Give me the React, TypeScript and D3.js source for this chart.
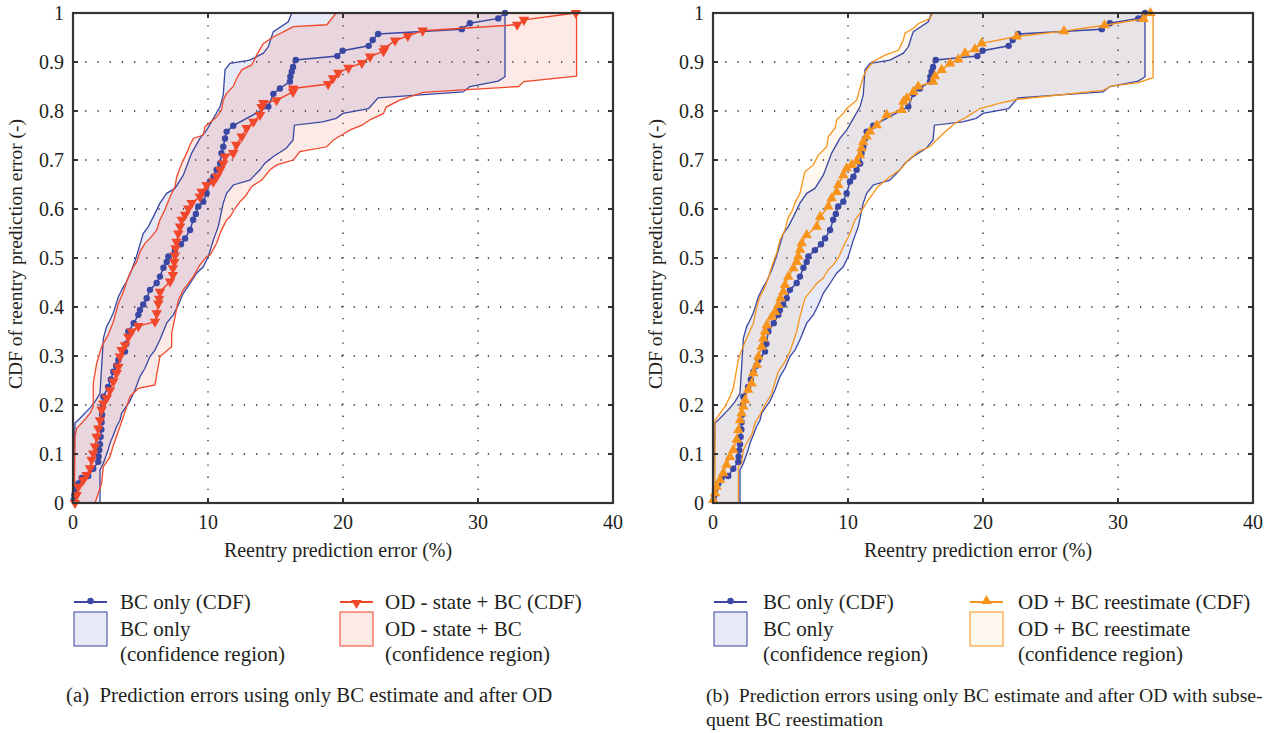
import React from "react";
import * as d3 from "d3";

type Pt = [number, number];

const xTicks = [0, 10, 20, 30, 40];
const yTicks = [0, 0.1, 0.2, 0.3, 0.4, 0.5, 0.6, 0.7, 0.8, 0.9, 1];
const yTickLabels = ["0", "0.1", "0.2", "0.3", "0.4", "0.5", "0.6", "0.7", "0.8", "0.9", "1"];
const xGrid = [10, 20, 30];
const yGrid = [0.1, 0.2, 0.3, 0.4, 0.5, 0.6, 0.7, 0.8, 0.9];

// BC only: CDF and its confidence bounds
const bcCdf: Pt[] = [
  [0.05, 0.006], [0.1, 0.016], [0.15, 0.027], [0.4, 0.04], [0.64, 0.051], [1.13, 0.055], [1.5, 0.07],
  [1.87, 0.084], [1.9, 0.095], [1.95, 0.108], [2.0, 0.12], [2.05, 0.135], [2.1, 0.15], [2.12, 0.165],
  [2.15, 0.18], [2.2, 0.2], [2.25, 0.217], [2.6, 0.237], [2.8, 0.252], [2.99, 0.268], [3.2, 0.28],
  [3.36, 0.292], [3.85, 0.309], [3.95, 0.325], [4.1, 0.35], [4.5, 0.367], [4.84, 0.384], [4.96, 0.394],
  [5.2, 0.405], [5.46, 0.418], [5.7, 0.435], [6.2, 0.449], [6.44, 0.462], [6.7, 0.48], [6.94, 0.492],
  [7.06, 0.503], [7.55, 0.516], [8.0, 0.528], [8.3, 0.54], [8.67, 0.557], [8.9, 0.578], [9.1, 0.59],
  [9.28, 0.605], [9.65, 0.615], [9.9, 0.632], [10.15, 0.656], [10.4, 0.666], [10.64, 0.68], [10.9, 0.693],
  [11.0, 0.714], [11.13, 0.727], [11.26, 0.744], [11.38, 0.758], [11.87, 0.77], [14.47, 0.809],
  [14.84, 0.835], [15.33, 0.846], [16.07, 0.86], [16.1, 0.87], [16.2, 0.88], [16.3, 0.89], [16.5, 0.904],
  [19.58, 0.912], [19.97, 0.923], [21.9, 0.933], [22.2, 0.945], [22.6, 0.957], [28.8, 0.967],
  [29.4, 0.979], [31.5, 0.989], [32.0, 1.0],
];
const bcUpper: Pt[] = [
  [0, 0], [0.15, 0.163], [0.52, 0.173], [1.26, 0.194], [1.63, 0.207], [2.0, 0.224], [2.25, 0.336],
  [2.49, 0.36], [2.74, 0.373], [2.99, 0.388], [3.36, 0.421], [3.73, 0.441], [3.95, 0.451], [4.34, 0.475],
  [4.7, 0.503], [5.2, 0.55], [5.58, 0.564], [5.95, 0.584], [6.44, 0.612], [6.94, 0.632], [7.55, 0.642],
  [8.17, 0.669], [8.79, 0.714], [9.4, 0.744], [9.9, 0.761], [10.4, 0.785], [10.9, 0.809], [11.13, 0.833],
  [11.26, 0.884], [11.63, 0.897], [13.1, 0.904], [14.1, 0.918], [14.47, 0.931], [14.7, 0.951],
  [14.84, 0.962], [15.95, 0.982], [16.2, 1.0],
];
const bcLower: Pt[] = [
  [2.0, 0], [2.0, 0.067], [2.25, 0.081], [2.6, 0.108], [2.74, 0.122], [2.99, 0.139], [3.23, 0.156],
  [3.48, 0.169], [3.6, 0.183], [3.95, 0.197], [4.2, 0.207], [4.6, 0.231], [4.96, 0.258], [5.33, 0.275],
  [5.7, 0.299], [6.07, 0.312], [6.44, 0.333], [6.94, 0.367], [7.43, 0.384], [7.8, 0.404], [8.17, 0.428],
  [8.67, 0.448], [9.16, 0.469], [9.65, 0.482], [10.02, 0.503], [10.4, 0.537], [10.76, 0.564],
  [11.13, 0.612], [11.38, 0.632], [11.87, 0.649], [13.1, 0.659], [13.85, 0.68], [14.2, 0.693],
  [14.84, 0.707], [15.8, 0.724], [16.3, 0.741], [16.4, 0.771], [18.5, 0.778], [19.5, 0.785], [20.0, 0.795],
  [21.9, 0.805], [22.6, 0.827], [28.9, 0.839], [29.4, 0.85], [31.5, 0.861], [32.0, 0.87], [32.0, 1.0],
];

// OD - state + BC
const odCdf: Pt[] = [
  [0.15, 0.0], [0.27, 0.016], [0.39, 0.033], [0.76, 0.047], [1.0, 0.057], [1.26, 0.071], [1.38, 0.088],
  [1.5, 0.101], [1.63, 0.115], [1.75, 0.135], [1.87, 0.152], [2.0, 0.169], [2.12, 0.19], [2.25, 0.203],
  [2.49, 0.214], [2.74, 0.23], [2.99, 0.248], [3.23, 0.265], [3.36, 0.278], [3.48, 0.299], [3.6, 0.312],
  [3.85, 0.322], [4.1, 0.339], [4.34, 0.35], [4.84, 0.361], [6.07, 0.37], [6.2, 0.387], [6.32, 0.407],
  [6.38, 0.417], [6.44, 0.431], [7.19, 0.452], [7.4, 0.465], [7.4, 0.479], [7.5, 0.492], [7.55, 0.505],
  [7.6, 0.52], [7.67, 0.533], [7.8, 0.55], [7.93, 0.564], [8.05, 0.578], [8.3, 0.588], [8.54, 0.601],
  [8.79, 0.612], [9.4, 0.625], [9.53, 0.635], [9.9, 0.649], [10.4, 0.656], [10.64, 0.666], [10.9, 0.68],
  [11.13, 0.693], [11.26, 0.707], [11.87, 0.714], [12.1, 0.731], [12.5, 0.748], [12.86, 0.765],
  [13.36, 0.778], [13.85, 0.792], [13.97, 0.808], [14.1, 0.816], [15.08, 0.822], [16.3, 0.839],
  [16.3, 0.846], [18.9, 0.855], [19.26, 0.867], [19.65, 0.878], [20.4, 0.888], [21.4, 0.898], [22.0, 0.911],
  [23.0, 0.922], [23.1, 0.928], [23.85, 0.944], [24.8, 0.953], [25.9, 0.964], [32.9, 0.976], [33.4, 0.986],
  [37.25, 1.0],
];
const odUpper: Pt[] = [
  [0.1, 0], [0.15, 0.135], [0.27, 0.152], [0.64, 0.163], [1.26, 0.183], [1.5, 0.197], [1.5, 0.244],
  [1.75, 0.285], [2.12, 0.319], [2.6, 0.343], [2.99, 0.37], [3.36, 0.407], [3.73, 0.431], [3.98, 0.452],
  [4.22, 0.469], [4.47, 0.482], [4.72, 0.492], [4.96, 0.513], [5.33, 0.53], [5.7, 0.54], [6.2, 0.557],
  [6.44, 0.578], [6.8, 0.598], [7.19, 0.625], [7.56, 0.646], [7.68, 0.666], [8.05, 0.693], [8.42, 0.714],
  [8.67, 0.731], [8.91, 0.744], [9.65, 0.751], [9.78, 0.768], [10.64, 0.788], [11.0, 0.802],
  [11.13, 0.822], [11.38, 0.836], [11.87, 0.85], [12.13, 0.867], [12.5, 0.884], [13.24, 0.894],
  [13.6, 0.914], [14.1, 0.938], [14.84, 0.951], [15.83, 0.965], [16.32, 0.972], [18.8, 0.976], [19.5, 1.0],
];
const odLower: Pt[] = [
  [1.63, 0], [2.12, 0.04], [2.25, 0.074], [2.74, 0.094], [2.99, 0.118], [3.48, 0.156], [3.73, 0.176],
  [3.98, 0.197], [4.22, 0.217], [4.84, 0.234], [6.07, 0.241], [6.44, 0.299], [7.31, 0.319], [7.31, 0.346],
  [7.56, 0.38], [7.8, 0.414], [8.17, 0.435], [8.54, 0.448], [8.91, 0.462], [9.4, 0.486], [9.9, 0.503],
  [10.15, 0.506], [10.64, 0.53], [10.89, 0.55], [11.13, 0.564], [11.38, 0.578], [11.63, 0.584],
  [12.0, 0.601], [12.37, 0.615], [12.74, 0.625], [13.24, 0.646], [13.98, 0.659], [14.6, 0.68],
  [15.1, 0.69], [16.32, 0.7], [16.8, 0.717], [18.8, 0.727], [19.3, 0.741], [19.9, 0.751], [20.5, 0.761],
  [21.4, 0.771], [22.0, 0.782], [23.0, 0.795], [23.2, 0.808], [24.2, 0.822], [25.95, 0.838], [28.9, 0.843],
  [33.0, 0.85], [33.4, 0.86], [37.3, 0.871], [37.3, 1.0],
];

// OD + BC reestimate
const reCdf: Pt[] = [
  [0.02, 0.006], [0.15, 0.02], [0.27, 0.033], [0.52, 0.047], [0.76, 0.061], [1.0, 0.078], [1.26, 0.094],
  [1.5, 0.108], [1.75, 0.129], [1.88, 0.149], [2.0, 0.169], [2.12, 0.183], [2.25, 0.197], [2.37, 0.21],
  [2.6, 0.231], [2.87, 0.244], [2.99, 0.265], [3.24, 0.282], [3.36, 0.299], [3.6, 0.319], [3.73, 0.336],
  [3.85, 0.35], [3.98, 0.363], [4.35, 0.38], [4.6, 0.39], [4.84, 0.404], [5.0, 0.418], [5.21, 0.431],
  [5.33, 0.445], [5.58, 0.462], [5.95, 0.479], [6.2, 0.492], [6.32, 0.503], [6.45, 0.517], [6.57, 0.53],
  [6.94, 0.547], [7.68, 0.564], [7.93, 0.584], [8.54, 0.605], [8.79, 0.622], [9.16, 0.635], [9.28, 0.649],
  [9.65, 0.669], [9.9, 0.683], [10.27, 0.69], [10.64, 0.697], [10.89, 0.71], [11.0, 0.724], [11.13, 0.737],
  [11.38, 0.748], [11.63, 0.758], [12.13, 0.771], [12.87, 0.792], [13.98, 0.802], [14.1, 0.819],
  [14.35, 0.826], [14.84, 0.839], [15.2, 0.85], [16.3, 0.86], [16.44, 0.871], [16.94, 0.884],
  [17.56, 0.897], [18.17, 0.905], [18.67, 0.918], [19.4, 0.926], [19.9, 0.938], [22.5, 0.952],
  [26.0, 0.963], [29.0, 0.975], [31.9, 0.988], [32.4, 1.0],
];
const reUpper: Pt[] = [
  [0.15, 0], [0.15, 0.169], [0.52, 0.183], [0.89, 0.197], [1.26, 0.217], [1.5, 0.234], [1.87, 0.292],
  [2.12, 0.312], [2.49, 0.336], [2.99, 0.367], [3.24, 0.4], [3.48, 0.421], [3.85, 0.441], [4.1, 0.459],
  [4.35, 0.482], [4.72, 0.51], [4.96, 0.537], [5.33, 0.557], [5.58, 0.584], [5.83, 0.594], [6.07, 0.612],
  [6.44, 0.632], [6.8, 0.676], [7.43, 0.69], [7.8, 0.71], [8.42, 0.727], [8.54, 0.748], [9.04, 0.765],
  [9.16, 0.782], [9.65, 0.795], [9.9, 0.805], [10.64, 0.822], [11.13, 0.87], [11.38, 0.884],
  [11.87, 0.901], [12.74, 0.914], [13.73, 0.924], [14.1, 0.945], [14.22, 0.959], [14.84, 0.969],
  [15.2, 0.978], [16.07, 0.989], [16.3, 1.0],
];
const reLower: Pt[] = [
  [1.88, 0], [1.88, 0.074], [2.12, 0.081], [2.25, 0.108], [2.49, 0.122], [2.87, 0.139], [3.11, 0.163],
  [3.48, 0.18], [3.85, 0.2], [4.35, 0.224], [4.6, 0.248], [4.84, 0.268], [5.33, 0.288], [5.7, 0.309],
  [5.95, 0.329], [6.2, 0.35], [6.44, 0.38], [6.81, 0.418], [7.31, 0.435], [7.68, 0.448], [8.17, 0.459],
  [8.54, 0.476], [8.91, 0.486], [9.28, 0.5], [9.78, 0.53], [10.15, 0.55], [10.52, 0.578], [10.89, 0.591],
  [11.5, 0.618], [12.24, 0.646], [13.1, 0.666], [13.85, 0.68], [14.47, 0.7], [15.2, 0.717], [16.07, 0.727],
  [16.57, 0.741], [17.06, 0.754], [17.93, 0.775], [18.8, 0.788], [19.78, 0.805], [21.26, 0.816],
  [22.6, 0.824], [28.9, 0.842], [29.5, 0.851], [31.5, 0.858], [32.6, 0.868], [32.6, 1.0],
];

const BLUE = "#3a47a3";
const RED = "#f1472b";
const ORANGE = "#f7941d";
const FONT = "Liberation Serif, Times New Roman, serif";
const AXIS = "#333";
const INK = "#231f20";

type Series = {
  name: string;
  cdf: Pt[];
  upper: Pt[];
  lower: Pt[];
  color: string;
  fill: string;
  fillOpacity: number;
  marker: "dot" | "down" | "up";
};

const bcSeries: Series = { name: "BC only", cdf: bcCdf, upper: bcUpper, lower: bcLower, color: BLUE, fill: "#4652b8", fillOpacity: 0.13, marker: "dot" };
const odSeries: Series = { name: "OD - state + BC", cdf: odCdf, upper: odUpper, lower: odLower, color: RED, fill: "#f1472b", fillOpacity: 0.12, marker: "down" };
const reSeries: Series = { name: "OD + BC reestimate", cdf: reCdf, upper: reUpper, lower: reLower, color: ORANGE, fill: "#f7a030", fillOpacity: 0.08, marker: "up" };

const plotTop = 13;
const plotBottom = 503;
const plotWidth = 540;

function Marker({ kind, x, y, color }: { kind: string; x: number; y: number; color: string }) {
  if (kind === "dot") return <circle cx={x} cy={y} r={3.2} fill={color} />;
  const path = d3.symbol(d3.symbolTriangle, 48)() as string;
  return (
    <path
      d={path}
      transform={`translate(${x},${y}) rotate(${kind === "down" ? 180 : 0})`}
      fill={color}
    />
  );
}

function Panel({
  left,
  series,
  leg,
  caption,
  captionSize,
}: {
  left: number;
  series: Series[];
  leg: { col2Line: number; textOff: number; col2Text: number };
  caption: string[];
  captionSize: number;
}) {
  const x = d3.scaleLinear().domain([0, 40]).range([left, left + plotWidth]);
  const y = d3.scaleLinear().domain([0, 1]).range([plotBottom, plotTop]);
  const line = d3.line<Pt>().x((d) => x(d[0])).y((d) => y(d[1]));
  const region = (s: Series) => line(s.upper.concat(s.lower.slice().reverse())) + "Z";

  return (
    <g style={{ fontFamily: FONT }}>
      {/* grid */}
      {xGrid.map((t) => (
        <line key={"gx" + t} x1={x(t)} x2={x(t)} y1={plotTop} y2={plotBottom} stroke="#222" strokeWidth={1.3} strokeDasharray="1.3 10.9" />
      ))}
      {yGrid.map((t) => (
        <line key={"gy" + t} x1={left} x2={left + plotWidth} y1={y(t)} y2={y(t)} stroke="#222" strokeWidth={1.3} strokeDasharray="1.3 10.9" />
      ))}

      {/* confidence regions */}
      {series.map((s) => (
        <path key={"f" + s.name} d={region(s)} fill={s.fill} fillOpacity={s.fillOpacity} stroke="none" />
      ))}
      {series.map((s) => (
        <path key={"o" + s.name} d={region(s)} fill="none" stroke={s.color} strokeWidth={1.3} />
      ))}

      {/* CDFs */}
      {series.map((s) => (
        <g key={"c" + s.name}>
          <path d={line(s.cdf) as string} fill="none" stroke={s.color} strokeWidth={1.5} />
          {s.cdf.map((d, i) => (
            <Marker key={i} kind={s.marker} x={x(d[0])} y={y(d[1])} color={s.color} />
          ))}
        </g>
      ))}

      {/* frame and ticks */}
      <rect x={left} y={plotTop} width={plotWidth} height={plotBottom - plotTop} fill="none" stroke={AXIS} strokeWidth={2.2} />
      {xTicks.slice(1, -1).map((t) => (
        <g key={"xt" + t}>
          <line x1={x(t)} x2={x(t)} y1={plotBottom} y2={plotBottom - 5} stroke={AXIS} strokeWidth={2} />
          <line x1={x(t)} x2={x(t)} y1={plotTop} y2={plotTop + 5} stroke={AXIS} strokeWidth={2} />
        </g>
      ))}
      {yTicks.slice(1, -1).map((t) => (
        <g key={"yt" + t}>
          <line x1={left} x2={left + 5} y1={y(t)} y2={y(t)} stroke={AXIS} strokeWidth={2} />
          <line x1={left + plotWidth} x2={left + plotWidth - 5} y1={y(t)} y2={y(t)} stroke={AXIS} strokeWidth={2} />
        </g>
      ))}

      {/* tick labels */}
      {xTicks.map((t) => (
        <text key={"xl" + t} x={x(t)} y={529} textAnchor="middle" fontSize={20} fill={INK}>
          {t}
        </text>
      ))}
      {yTicks.map((t, i) => (
        <text key={"yl" + t} x={left - 9} y={y(t)} dy="0.35em" textAnchor="end" fontSize={20} fill={INK}>
          {yTickLabels[i]}
        </text>
      ))}
      <text x={left + plotWidth / 2 - 5} y={557} textAnchor="middle" fontSize={20} fill={INK}>
        Reentry prediction error (%)
      </text>
      <text
        transform={`translate(${left - 51},254) rotate(-90)`}
        textAnchor="middle"
        fontSize={19.5}
        fill={INK}
      >
        CDF of reentry prediction error (-)
      </text>

      {/* legend */}
      {series.map((s, i) => {
        const lx = i === 0 ? left + 1 : left + leg.col2Line;
        const tx = i === 0 ? left + leg.textOff : left + leg.col2Text;
        return (
          <g key={"lg" + s.name} fontSize={21} fill={INK}>
            <line x1={lx} x2={lx + 33} y1={602} y2={602} stroke={s.color} strokeWidth={2} />
            <Marker kind={s.marker} x={lx + 16.5} y={s.marker === "down" ? 603 : 601} color={s.color} />
            <text x={tx} y={609}>{s.name + " (CDF)"}</text>
            <rect x={lx} y={612} width={33} height={34} fill={s.fill} fillOpacity={s.fillOpacity} stroke={s.color} strokeOpacity={0.8} strokeWidth={1.3} />
            <text x={tx} y={636}>{s.name}</text>
            <text x={tx} y={661}>(confidence region)</text>
          </g>
        );
      })}

      {/* caption */}
      {caption.map((c, i) => (
        <text key={"cap" + i} x={left - 7} y={702 + i * 24} fontSize={captionSize} fill={INK} style={{ whiteSpace: "pre" }}>
          {c}
        </text>
      ))}
    </g>
  );
}

export default function App() {
  return (
    <svg
      width={1272}
      height={733}
      style={{ position: "fixed", left: 0, top: 0, background: "#fff" }}
    >
      <rect width={1272} height={733} fill="#fff" />
      <Panel
        left={73}
        series={[bcSeries, odSeries]}
        leg={{ col2Line: 267, textOff: 47, col2Text: 312 }}
        caption={["(a)  Prediction errors using only BC estimate and after OD"]}
        captionSize={20.8}
      />
      <Panel
        left={713}
        series={[bcSeries, reSeries]}
        leg={{ col2Line: 257, textOff: 50, col2Text: 305 }}
        caption={[
          "(b)  Prediction errors using only BC estimate and after OD with subse-",
          "quent BC reestimation",
        ]}
        captionSize={19.7}
      />
    </svg>
  );
}
